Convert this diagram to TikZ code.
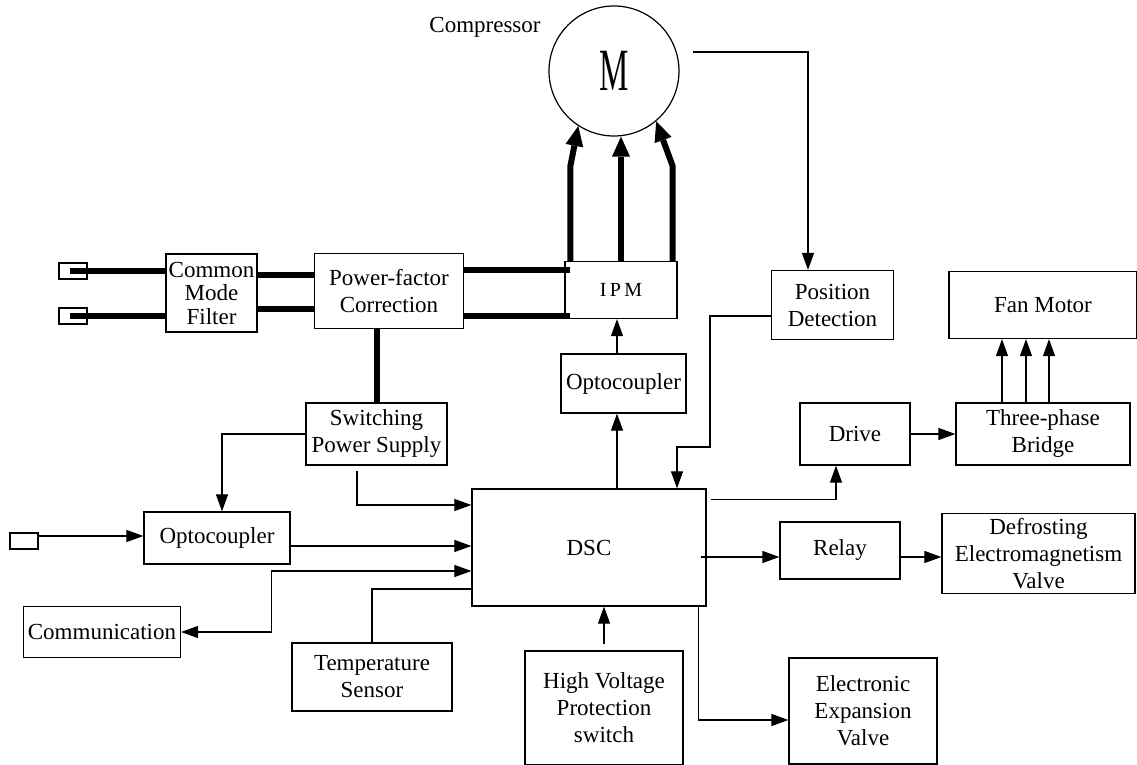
\documentclass[tikz,border=0pt]{standalone}
\usepackage{fontspec}
\setmainfont{Liberation Serif}
\usetikzlibrary{arrows.meta}

\tikzset{
	blk/.style={draw, line width=0.6pt, inner sep=0pt, align=center, font=\fontsize{11.5}{13.5}\selectfont},
	tin/.style={draw, line width=0.6pt, inner sep=0pt, minimum width=14pt, minimum height=8pt},
	arr/.style={line width=0.55pt, -{Triangle[length=8.5pt,width=6pt]}},
	dbl/.style={line width=0.55pt, {Triangle[length=8.5pt,width=6pt]}-{Triangle[length=8.5pt,width=6pt]}},
	pwr/.style={line width=3pt},
	pwrarr/.style={line width=3pt, -{Triangle[length=10pt,width=9pt,line width=0pt]}}
}

\begin{document}
\begin{tikzpicture}[x=0.5pt, y=-0.5pt]
	\useasboundingbox (0,0) rectangle (1137,765);
	
	% Draw the compressor
	\node[draw, circle, line width=0.6pt, inner sep=0pt, minimum size=65pt] (motor) at (614,71)
		{\fontsize{30}{32}\selectfont\scalebox{0.55}[1]{M}};
	\node[font=\fontsize{11.5}{13.5}\selectfont] (complbl) at (485,27) {Compressor};
	
	% Place the power blocks
	\node[tin] (tin1) at (73,271) {};
	\node[tin] (tin2) at (73,316) {};
	\node[blk, minimum width=45.5pt, minimum height=39pt, font=\fontsize{11.5}{11.75}\selectfont] (cmf) at (211.5,293) {Common\\Mode\\Filter};
	\node[blk, minimum width=74.5pt, minimum height=37.5pt] (pfc) at (389,291) {Power-factor\\Correction};
	\node[blk, minimum width=56pt, minimum height=28.5pt, font=\fontsize{10}{12}\selectfont] (ipm) at (621,290) {I\,P\,M};
	\node[blk, minimum width=70.5pt, minimum height=31pt] (sps) at (376.5,434) {Switching\\Power Supply};
	
	% Place the control blocks
	\node[blk, minimum width=61pt, minimum height=34.5pt] (posd) at (832.5,305) {Position\\Detection};
	\node[blk, minimum width=94pt, minimum height=33.5pt] (fan) at (1043,305) {Fan Motor};
	\node[blk, minimum width=62.5pt, minimum height=29.5pt] (optoI) at (623.5,383.5) {Optocoupler};
	\node[blk, minimum width=55pt, minimum height=31pt] (drive) at (855,434) {Drive};
	\node[blk, minimum width=87pt, minimum height=31pt] (tpb) at (1043,434) {Three-phase\\Bridge};
	\node[blk, minimum width=117pt, minimum height=58.5pt] (dsc) at (589,547.5) {DSC};
	\node[tin] (tin3) at (24,541) {};
	\node[blk, minimum width=73pt, minimum height=26pt] (optoL) at (217,538) {Optocoupler};
	\node[blk, minimum width=60pt, minimum height=28.5pt] (relay) at (840,550.5) {Relay};
	\node[blk, minimum width=96.5pt, minimum height=40pt] (dev) at (1038.5,553.5) {Defrosting\\Electromagnetism\\Valve};
	\node[blk, minimum width=78.5pt, minimum height=25.5pt] (comm) at (102,632) {Communication};
	\node[blk, minimum width=80pt, minimum height=34pt] (temp) at (372,677) {Temperature\\Sensor};
	\node[blk, minimum width=79pt, minimum height=57pt] (hvps) at (604,708) {High Voltage\\Protection\\switch};
	\node[blk, minimum width=74pt, minimum height=53pt] (eev) at (863,711) {Electronic\\Expansion\\Valve};
	
	% Draw the power lines
	\draw[pwr] ([xshift=-1.5pt]tin1.center) -- (tin1 -| cmf.west);
	\draw[pwr] ([xshift=-1.5pt]tin2.center) -- (tin2 -| cmf.west);
	\draw[pwr] ([yshift=9pt]cmf.east) -- ([yshift=8pt]pfc.west);
	\draw[pwr] ([yshift=-8pt]cmf.east) -- ([yshift=-9pt]pfc.west);
	\draw[pwr] ([yshift=10.5pt]pfc.east) -- ([xshift=3pt,yshift=10pt]ipm.west);
	\draw[pwr] ([yshift=-12.5pt]pfc.east) -- ([xshift=3pt,yshift=-13pt]ipm.west);
	\draw[pwr] (sps.north) -- (sps.north |- pfc.south);
	
	% Draw the three phases to the compressor
	\draw[pwrarr] ([xshift=3pt]ipm.north west) -- ++(0,-95) -- (motor.237);
	\draw[pwrarr] (ipm.north) -- (ipm.north |- motor.south);
	\draw[pwrarr] ([xshift=-2.5pt]ipm.north east) -- ++(0,-95) -- (motor.310);
	
	% Draw the signal lines
	\draw[arr] ([shift={(6.5pt,9.5pt)}]motor.east) -| ([xshift=-12.25pt]posd.north);
	\draw[arr] ([yshift=-5.5pt]posd.west) -| (710,447) -| ([xshift=44pt]dsc.north);
	\draw[arr] ([xshift=-3.25pt]optoI.north) -- ([xshift=-2pt]ipm.south);
	\draw[arr] ([xshift=14pt]dsc.north) -- ([xshift=-3.25pt]optoI.south);
	\draw[arr] ([shift={(2pt,-5.5pt)}]dsc.north east) -| ([xshift=-9.5pt]drive.south);
	\draw[arr] (drive.east) -- (tpb.west);
	\foreach \dx in {-20.5,-8.5,3} {
		\draw[arr] ([xshift=\dx pt]tpb.north) -- ([xshift=\dx pt]fan.south);
	}
	\coordinate (rlin) at ([yshift=-3.25pt]relay.west);
	\coordinate (rlout) at ([yshift=-3.25pt]relay.east);
	\draw[arr] ([xshift=-3pt]dsc.east |- rlin) -- (rlin);
	\draw[arr] (rlout) -- (dev.west |- rlout);
	\draw[arr] ([xshift=-4pt]dsc.south east) |- ([yshift=-4.5pt]eev.west);
	\draw[arr] ([yshift=3pt]hvps.north) -- (dsc.south -| hvps.north);
	\draw[line width=0.55pt] (temp.north) |- ([yshift=-20.75pt]dsc.west);
	\draw[dbl] (comm.east) -- ++(90,0) |- ([yshift=-11.75pt]dsc.west);
	\draw[arr] ([yshift=-4pt]optoL.east) -- ([yshift=0.75pt]dsc.west);
	\draw[arr] ([yshift=2.5pt]tin3.east) -- ([yshift=1pt]optoL.west);
	\draw[arr] ([shift={(-9.75pt,-2.5pt)}]sps.south) |- ([yshift=21.25pt]dsc.west);
	\draw[arr] (sps.west) -| ([xshift=2.5pt]optoL.north);
	
\end{tikzpicture}
\end{document}
